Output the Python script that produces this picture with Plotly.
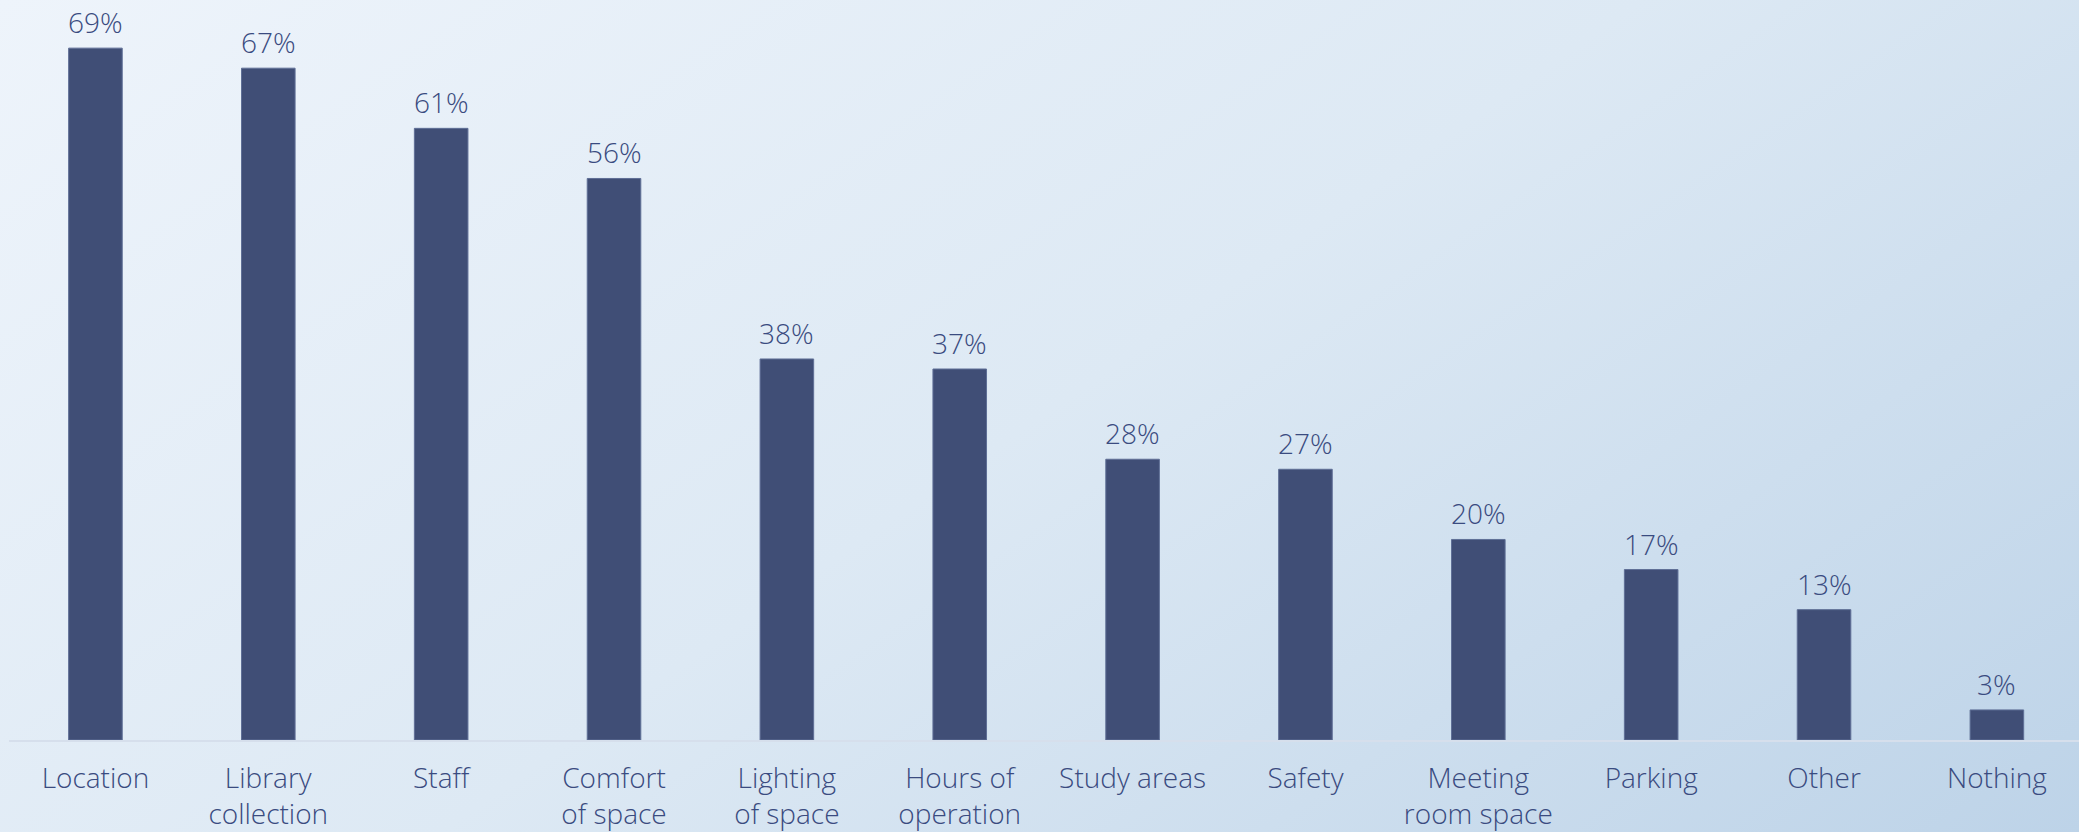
import plotly.graph_objects as go
import urllib.parse

# Survey results: what respondents value about the library
categories = [
    "Location", "Library<br>collection", "Staff", "Comfort<br>of space",
    "Lighting<br>of space", "Hours of<br>operation", "Study areas", "Safety",
    "Meeting<br>room space", "Parking", "Other", "Nothing",
]
percentages = [69, 67, 61, 56, 38, 37, 28, 27, 20, 17, 13, 3]

W, H = 2079, 832
BAR_COLOR = "#404E76"
TEXT_COLOR = "#3A4B80"
FONT = "'Open Sans', Lato, sans-serif"

# soft diagonal backdrop
bg_svg = (
    "<svg xmlns='http://www.w3.org/2000/svg' width='2079' height='832'>"
    "<defs><linearGradient id='g' gradientUnits='userSpaceOnUse' x1='0' y1='0' x2='1063' y2='1537'>"
    "<stop offset='0' stop-color='#EEF4FB'/><stop offset='0.5' stop-color='#DDE9F4'/>"
    "<stop offset='1' stop-color='#BDD3E8'/></linearGradient></defs>"
    "<rect width='2079' height='832' fill='url(#g)'/></svg>"
)
bg_uri = "data:image/svg+xml;charset=utf-8," + urllib.parse.quote(bg_svg)

L, R, T, B = 9, 0, 0, 92
pw, ph = W - L - R, H - T - B

fig = go.Figure(
    go.Bar(
        x=list(range(len(categories))),
        y=percentages,
        marker=dict(color=BAR_COLOR, line=dict(color="#5F6F96", width=1)),
        width=0.31,
        hoverinfo="skip",
    )
)

for i, v in enumerate(percentages):
    fig.add_annotation(
        x=i, y=v, text=f"{v}%", showarrow=False,
        xanchor="center", yanchor="bottom", yshift=5,
        font=dict(family=FONT, size=28, color=TEXT_COLOR, weight=300),
    )

fig.update_layout(
    width=W, height=H,
    margin=dict(l=L, r=R, t=T, b=B),
    paper_bgcolor="#E2ECF6",
    plot_bgcolor="rgba(0,0,0,0)",
    showlegend=False,
    images=[dict(
        source=bg_uri, xref="paper", yref="paper",
        x=-L / pw, y=1 + T / ph, sizex=W / pw, sizey=H / ph,
        xanchor="left", yanchor="top", sizing="stretch", layer="below",
    )],
    xaxis=dict(
        range=[-0.5, 11.475],
        tickmode="array",
        tickvals=list(range(len(categories))),
        ticktext=categories,
        showgrid=False, zeroline=False,
        showline=True, linecolor="#D6DFEC", linewidth=2,
        ticks="", ticklabelstandoff=12, automargin=False,
        tickfont=dict(family=FONT, size=28, color=TEXT_COLOR, weight=300),
    ),
    yaxis=dict(
        range=[0, 73.8], visible=False, showgrid=False, zeroline=False,
        automargin=False,
    ),
)

fig.write_html("out.html")
